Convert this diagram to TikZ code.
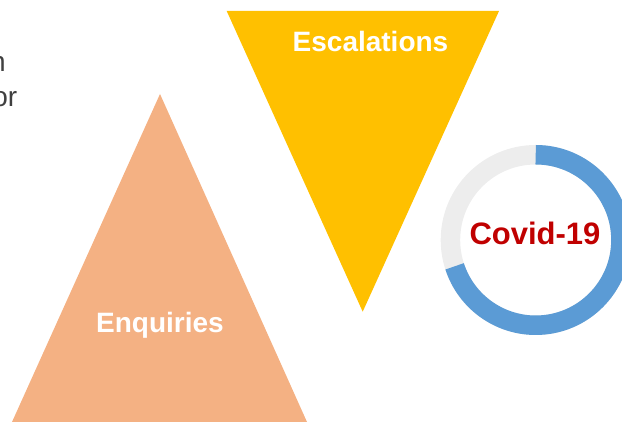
\documentclass[tikz,border=0pt]{standalone}
\usepackage{fontspec}
\setmainfont{Liberation Sans}
\usepackage{xcolor}
\definecolor{enqfill}{HTML}{F4B183}
\definecolor{escfill}{HTML}{FFC000}
\definecolor{ringblue}{HTML}{5B9BD5}
\definecolor{ringgray}{HTML}{EDEDED}
\definecolor{covidred}{HTML}{C00000}
\definecolor{bodytext}{HTML}{404040}

\begin{document}
\begin{tikzpicture}[
            x=1pt, y=1pt,
            label/.style={inner sep=0pt, anchor=base, font=\fontsize{28}{33.6}\selectfont\bfseries},
            body/.style={inner sep=0pt, anchor=base east, text=bodytext, font=\fontsize{28}{33.6}\selectfont}
        ]
            \useasboundingbox (0,0) rectangle (622,422);
            \clip (0,0) rectangle (622,422);

            % cut-off text on the left
            \node[body] (lineA) at (6,350.3) {n};
            \node[body] (lineB) at (17.5,315.3) {or};

            % Enquiries
            \fill[enqfill] (160,328) -- (307,0) -- (12,0) -- cycle;
            \node[label, text=white] (enq) at (160,89) {Enquiries};

            % Escalations
            \fill[escfill] (226.7,411) -- (499,411) -- (362.7,110.3) -- cycle;
            \node[label, text=white] (esc) at (370.5,370) {Escalations};

            % Covid-19 ring
            \coordinate (ring) at (535.7,182);
            \draw[ringgray, line width=19.5pt] (ring) circle[radius=85.25pt];
            \draw[ringblue, line width=19.5pt] ([shift={(90:85.25pt)}]ring) arc[start angle=90, end angle=-162, radius=85.25pt];
            \node[label, text=covidred, font=\fontsize{31}{37}\selectfont\bfseries] (covid) at (535,177) {Covid-19};
        \end{tikzpicture}
\end{document}
